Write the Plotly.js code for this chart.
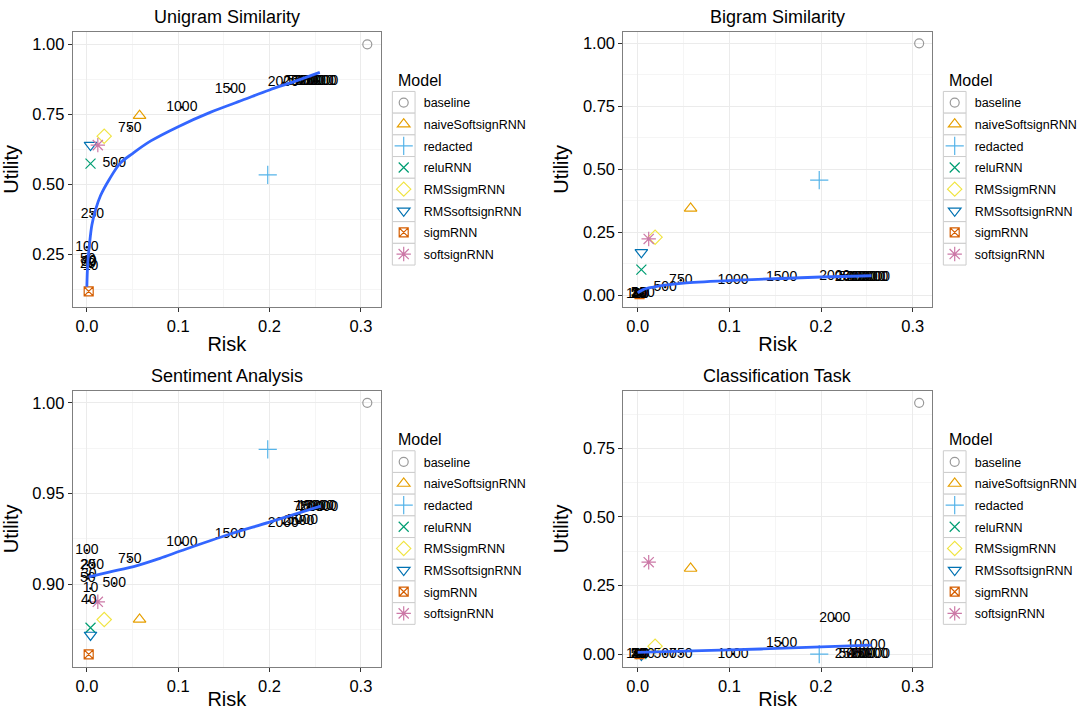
<!DOCTYPE html>
<html>
<head>
<meta charset="utf-8">
<script src="https://cdn.plot.ly/plotly-3.0.1.min.js"></script>
<style>html,body{margin:0;padding:0;background:#fff;} #chart{width:1080px;height:710px;}</style>
</head>
<body>
<div id="chart"></div>
<script>
// ---------------- DATA ----------------
const models = ['baseline','naiveSoftsignRNN','redacted','reluRNN','RMSsigmRNN','RMSsoftsignRNN','sigmRNN','softsignRNN'];
const modelRisk = [0.307, 0.0577, 0.198, 0.004, 0.019, 0.004, 0.002, 0.012];
const uniModel  = [1.000, 0.745, 0.534, 0.574, 0.672, 0.640, 0.118, 0.640];
const biModel   = [1.000, 0.345, 0.457, 0.102, 0.231, 0.171, 0.005, 0.224];
const sentModel = [1.000, 0.8805, 0.9743, 0.8759, 0.8804, 0.8719, 0.8612, 0.8902];
const clsModel  = [0.916, 0.312, 0.000, 0.000, 0.029, -0.003, 0.000, 0.335];

const sizeLabels = ['10','20','30','40','50','100','250','500','750','1000','1500','2000','2500','5000','7500','10000','15000','20000'];
const labelRisk  = [0.004, 0.001, 0.002, 0.002, 0.001, 0.000, 0.006, 0.030, 0.047, 0.104, 0.157, 0.215, 0.232, 0.236, 0.243, 0.249, 0.252, 0.254];
const uniLabel   = [0.205, 0.215, 0.222, 0.225, 0.230, 0.275, 0.394, 0.575, 0.700, 0.775, 0.840, 0.863, 0.866, 0.867, 0.868, 0.868, 0.867, 0.868];
const biLabel    = [0.004, 0.004, 0.005, 0.005, 0.006, 0.004, 0.008, 0.033, 0.060, 0.060, 0.069, 0.073, 0.071, 0.071, 0.072, 0.071, 0.072, 0.071];
const sentLabel  = [0.8976, 0.9105, 0.905, 0.8908, 0.903, 0.9187, 0.9105, 0.9004, 0.9136, 0.9228, 0.9276, 0.9335, 0.9345, 0.935, 0.9425, 0.943, 0.943, 0.9425];
const clsLabel   = [0.000, 0.000, 0.000, 0.000, 0.000, 0.000, 0.000, 0.000, 0.000, 0.000, 0.040, 0.130, 0.000, 0.000, 0.000, 0.033, 0.000, 0.000];

// fitted smooth curves
const uniSmoothX  = [0.000, 0.001, 0.003, 0.0055, 0.0094, 0.015, 0.025, 0.0364, 0.050, 0.070, 0.100, 0.135, 0.170, 0.200, 0.226, 0.255];
const uniSmoothY  = [0.134, 0.220, 0.290, 0.355, 0.408, 0.460, 0.520, 0.575, 0.610, 0.655, 0.706, 0.757, 0.800, 0.837, 0.866, 0.900];
const biSmoothX   = [0.000, 0.006, 0.017, 0.032, 0.053, 0.104, 0.157, 0.200, 0.255];
const biSmoothY   = [0.010, 0.023, 0.033, 0.042, 0.050, 0.060, 0.067, 0.073, 0.078];
const sentSmoothX = [0.002, 0.0255, 0.055, 0.080, 0.104, 0.157, 0.199, 0.256];
const sentSmoothY = [0.904, 0.9067, 0.9102, 0.9142, 0.9185, 0.9276, 0.9340, 0.9430];
const clsSmoothX  = [0.000, 0.100, 0.200, 0.255];
const clsSmoothY  = [0.006, 0.015, 0.026, 0.033];

const panelTitles = ['Unigram Similarity','Bigram Similarity','Sentiment Analysis','Classification Task'];
const legendTitle = 'Model';
const xTickVals = [0, 0.1, 0.2, 0.3];
const yTickVals = [[0.25,0.5,0.75,1.0],[0,0.25,0.5,0.75,1.0],[0.90,0.95,1.00],[0,0.25,0.5,0.75]];

// ---------------- STYLE ----------------
const colors = ['#999999','#E69F00','#56B4E9','#009E73','#F0E442','#0072B2','#D55E00','#CC79A7'];
const symbols = ['circle-open','triangle-up-open','cross-thin-open','x-thin-open','diamond-open','triangle-down-open','square-x-open','asterisk-open'];
const msizes = [9, 11, 13, 10, 11, 11, 9, 12];
const FONT = 'Liberation Sans, Arial, Helvetica, sans-serif';
const W = 1080, H = 710;
const px = v => v / W, py = v => 1 - v / H;

const panels = [
  {mY: uniModel,  lY: uniLabel,  sX: uniSmoothX,  sY: uniSmoothY,  xr:[-0.0155,0.322], yr:[0.062,1.045], x0:72.7, x1:381, y0:31.7, y1:307, minorY:0.125},
  {mY: biModel,   lY: biLabel,   sX: biSmoothX,   sY: biSmoothY,   xr:[-0.0157,0.321], yr:[-0.046,1.046], x0:623.3, x1:932, y0:31.7, y1:307, minorY:0.125},
  {mY: sentModel, lY: sentLabel, sX: sentSmoothX, sY: sentSmoothY, xr:[-0.0155,0.322], yr:[0.8544,1.0065], x0:72.7, x1:381, y0:391, y1:666.7, minorY:0.025},
  {mY: clsModel,  lY: clsLabel,  sX: clsSmoothX,  sY: clsSmoothY,  xr:[-0.0157,0.321], yr:[-0.046,0.959], x0:623.3, x1:932, y0:391, y1:666.7, minorY:0.125}
];

const traces = [];
const layout = {
  width: W, height: H,
  margin: {l:0, r:0, t:0, b:0, autoexpand: false},
  paper_bgcolor: '#fff', plot_bgcolor: '#fff',
  font: {family: FONT, color: '#000'},
  annotations: [], shapes: []
};

const KEY_W = 22.7, KEY_H = 21.7;

panels.forEach((p, i) => {
  const n = i + 1;
  const xa = 'x' + (n === 1 ? '' : n), ya = 'y' + (n === 1 ? '' : n);
  const legId = 'legend' + (n === 1 ? '' : n);
  // model points
  models.forEach((m, k) => {
    traces.push({
      type: 'scatter', mode: 'markers', name: m,
      x: [modelRisk[k]], y: [p.mY[k]], xaxis: xa, yaxis: ya,
      legend: legId, legendgroup: 'g' + n + '_' + k,
      marker: {symbol: symbols[k], color: colors[k], size: msizes[k], line: {width: 1.2, color: colors[k]}},
      hoverinfo: 'skip'
    });
  });
  // labelled size points
  traces.push({
    type: 'scatter', mode: 'markers+text', x: labelRisk, y: p.lY, text: sizeLabels,
    xaxis: xa, yaxis: ya, showlegend: false, legend: legId,
    textposition: 'middle center', textfont: {family: FONT, size: 14, color: '#000'},
    marker: {color: '#000', size: 2.5}, cliponaxis: false, hoverinfo: 'skip'
  });
  // smooth line
  traces.push({
    type: 'scatter', mode: 'lines', x: p.sX, y: p.sY, xaxis: xa, yaxis: ya,
    showlegend: false, legend: legId,
    line: {color: '#3366FF', width: 2.8, shape: 'spline', smoothing: 1}, hoverinfo: 'skip'
  });

  const axCommon = {
    showline: true, linecolor: '#7f7f7f', linewidth: 1, mirror: true,
    ticks: 'outside', ticklen: 4, tickcolor: '#333', tickwidth: 1,
    showgrid: true, gridcolor: '#ebebeb', gridwidth: 1, zeroline: false,
    tickfont: {family: FONT, size: 16.5, color: '#000'}
  };
  layout['xaxis' + (n === 1 ? '' : n)] = Object.assign({}, axCommon, {
    domain: [px(p.x0), px(p.x1)], anchor: ya, range: p.xr,
    tickvals: xTickVals, tickformat: '.1f',
    minor: {dtick: 0.05, tick0: 0, showgrid: true, gridcolor: '#f5f5f5', ticks: ''},
    title: {text: 'Risk', font: {family: FONT, size: 20, color: '#000'}, standoff: 3}
  });
  layout['yaxis' + (n === 1 ? '' : n)] = Object.assign({}, axCommon, {
    domain: [py(p.y1), py(p.y0)], anchor: xa, range: p.yr,
    tickvals: yTickVals[i], tickformat: '.2f',
    minor: {dtick: p.minorY, tick0: 0, showgrid: true, gridcolor: '#f5f5f5', ticks: ''},
    title: {text: 'Utility', font: {family: FONT, size: 20, color: '#000'}, standoff: 8}
  });
  layout[legId] = {
    x: px(p.x1 + 2.7), y: py(p.y0 + 56.2), xanchor: 'left', yanchor: 'top',
    bgcolor: 'rgba(0,0,0,0)', borderwidth: 0, tracegroupgap: 2.4,
    font: {family: FONT, size: 12.5, color: '#000'}
  };
  // legend title
  layout.annotations.push({
    text: legendTitle, xref: 'paper', yref: 'paper',
    x: px(p.x1 + 14.5), y: py(p.y0 + 48.5), xanchor: 'left', yanchor: 'middle',
    showarrow: false, font: {family: FONT, size: 16, color: '#000'}
  });
  // legend key boxes (ggplot theme_bw style)
  models.forEach((m, k) => {
    const cx = p.x1 + 22.7, cy = p.y0 + 70.6 + k * KEY_H;
    layout.shapes.push({
      type: 'rect', xref: 'paper', yref: 'paper', layer: 'below',
      x0: px(cx - KEY_W / 2), x1: px(cx + KEY_W / 2),
      y0: py(cy + KEY_H / 2), y1: py(cy - KEY_H / 2),
      line: {color: '#cccccc', width: 1}, fillcolor: '#ffffff'
    });
  });
  layout.annotations.push({
    text: panelTitles[i], xref: 'paper', yref: 'paper',
    x: px((p.x0 + p.x1) / 2), y: py(p.y0 - 15), xanchor: 'center', yanchor: 'middle',
    showarrow: false, font: {family: FONT, size: 18, color: '#000'}
  });
});

Plotly.newPlot('chart', traces, layout, {staticPlot: true});
</script>
</body>
</html>
